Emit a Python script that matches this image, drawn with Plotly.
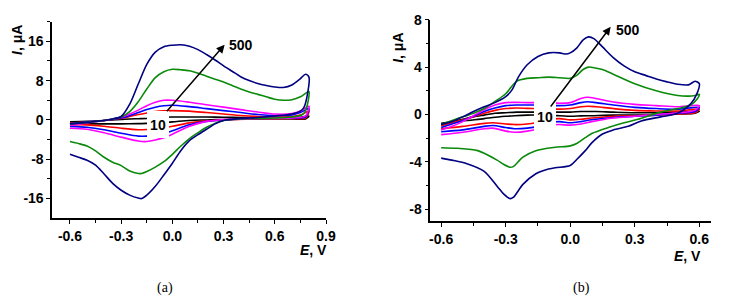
import plotly.graph_objects as go

# ---------------- Panel (a) data ----------------
a_big_E = [-0.6, -0.5, -0.45, -0.4, -0.35, -0.3, -0.25, -0.2, -0.15, -0.1, -0.05, 0.0, 0.05, 0.1,
           0.15, 0.2, 0.25, 0.3, 0.35, 0.4, 0.45, 0.5, 0.55, 0.6, 0.65, 0.7, 0.75, 0.78, 0.8,
           0.79, 0.77, 0.75, 0.7, 0.6, 0.5, 0.4, 0.3, 0.25, 0.2, 0.15, 0.1, 0.05, 0.0, -0.05, -0.1,
           -0.15, -0.18, -0.2, -0.25, -0.3, -0.35, -0.4, -0.45, -0.5, -0.55, -0.6]
a_navy_I = [-0.8, -0.5, -0.3, -0.1, 0.2, 0.7, 3.2, 7.3, 11.3, 13.8, 14.9, 15.2, 15.3, 15.0,
            14.3, 13.3, 12.2, 11.0, 9.9, 8.8, 8.0, 7.4, 7.0, 6.7, 6.6, 7.1, 8.4, 9.3, 8.7,
            5.0, 2.5, 1.8, 1.2, 0.8, 0.5, 0.3, -0.1, -0.8, -1.9, -3.0, -4.2, -6.2, -8.8, -11.2, -13.5,
            -15.3, -16.0, -15.9, -15.3, -14.3, -12.9, -11.0, -9.2, -8.2, -7.6, -7.0]
a_green_I = [-0.8, -0.5, -0.3, -0.1, 0.2, 0.6, 1.7, 3.7, 6.3, 8.6, 9.8, 10.3, 10.2, 10.0,
             9.5, 8.9, 8.3, 7.7, 7.0, 6.3, 5.7, 5.2, 4.7, 4.2, 4.0, 4.1, 4.7, 5.4, 5.8,
             3.0, 1.3, 0.9, 0.6, 0.4, 0.3, 0.2, -0.1, -0.7, -1.5, -2.6, -3.8, -5.3, -7.0, -8.5, -9.6,
             -10.5, -10.9, -10.9, -10.4, -9.3, -8.6, -7.6, -6.3, -5.3, -4.8, -4.4]

a_small_E = [-0.6, -0.5, -0.4, -0.3, -0.25, -0.2, -0.15, -0.1, -0.05, 0.0, 0.1, 0.2, 0.3, 0.4,
             0.5, 0.6, 0.7, 0.75, 0.8,
             0.78, 0.7, 0.5, 0.3, 0.2, 0.1, 0.0, -0.05, -0.1, -0.15, -0.2, -0.3, -0.4, -0.5, -0.6]
a_magenta_I = [-1.1, -0.6, -0.1, 0.6, 1.2, 2.0, 2.9, 3.6, 4.0, 4.0, 3.6, 3.1, 2.6, 2.1,
               1.6, 1.2, 1.3, 1.8, 2.8,
               0.8, 0.4, 0.3, 0.1, -0.3, -1.3, -2.9, -3.6, -4.1, -4.4, -4.3, -3.5, -2.6, -1.9, -1.7]
a_blue_I = [-0.8, -0.4, -0.1, 0.4, 0.9, 1.5, 2.1, 2.6, 2.9, 3.0, 2.7, 2.3, 1.9, 1.5,
            1.1, 0.9, 1.0, 1.5, 2.3,
            0.6, 0.4, 0.3, 0.0, -0.3, -1.0, -2.2, -2.8, -3.1, -3.3, -3.3, -2.7, -2.0, -1.5, -1.3]
a_red_I = [-0.7, -0.4, -0.1, 0.3, 0.7, 1.1, 1.4, 1.7, 1.85, 1.9, 1.8, 1.5, 1.2, 0.9,
           0.7, 0.6, 0.7, 1.0, 1.8,
           0.4, 0.3, 0.2, 0.0, -0.2, -0.6, -1.3, -1.6, -1.8, -1.95, -2.0, -1.7, -1.3, -1.0, -1.0]
a_black_I = [-0.4, -0.3, -0.1, 0.1, 0.2, 0.25, 0.3, 0.45, 0.55, 0.6, 0.6, 0.6, 0.55, 0.5,
             0.45, 0.4, 0.45, 0.55, 0.8,
             0.2, 0.2, 0.15, 0.1, 0.0, -0.1, -0.4, -0.5, -0.6, -0.7, -0.75, -0.8, -0.8, -0.8, -0.8]

# ---------------- Panel (b) data ----------------
b_navy_E = [-0.6, -0.55, -0.5, -0.45, -0.4, -0.35, -0.3, -0.27, -0.24, -0.2, -0.15, -0.1, -0.05,
            -0.02, 0.0, 0.03, 0.06, 0.085, 0.11, 0.15, 0.2, 0.25, 0.3, 0.35, 0.4, 0.45, 0.5, 0.55,
            0.58, 0.6,
            0.59, 0.56, 0.5, 0.42, 0.33, 0.27, 0.2, 0.15, 0.1, 0.07, 0.03, 0.0, -0.07, -0.12, -0.16,
            -0.22, -0.265, -0.28, -0.31, -0.34, -0.4, -0.48, -0.55, -0.6]
b_navy_I = [-0.85, -0.6, -0.2, 0.25, 0.65, 1.0, 1.5, 2.1, 3.2, 4.2, 4.9, 5.2, 5.2,
            5.1, 5.2, 5.6, 6.3, 6.55, 6.4, 5.7, 4.8, 4.1, 3.6, 3.3, 3.0, 2.75, 2.55, 2.5,
            2.8, 2.6,
            1.8, 0.9, 0.1, -0.2, -0.55, -1.0, -1.3, -1.65, -2.4, -3.05, -3.8, -4.3, -4.5, -4.7, -5.0,
            -5.9, -7.0, -7.1, -6.7, -6.05, -4.8, -4.15, -3.85, -3.68]
b_green_E = [-0.6, -0.5, -0.45, -0.4, -0.35, -0.3, -0.25, -0.2, -0.15, -0.1, -0.05, 0.0, 0.03,
             0.06, 0.085, 0.11, 0.15, 0.2, 0.3, 0.4, 0.5, 0.55, 0.58, 0.6,
             0.59, 0.56, 0.5, 0.42, 0.315, 0.25, 0.177, 0.1, 0.07, 0.03, 0.0, -0.07, -0.16, -0.22,
             -0.265, -0.28, -0.31, -0.34, -0.43, -0.525, -0.6]
b_green_I = [-0.85, -0.2, 0.1, 0.5, 1.1, 1.75, 2.8, 3.05, 3.1, 3.15, 3.1, 3.05, 3.3,
             3.8, 4.0, 3.95, 3.8, 3.4, 2.6, 2.0, 1.6, 1.55, 1.6, 1.7,
             1.3, 0.8, 0.5, 0.2, -0.4, -0.7, -1.1, -1.6, -1.95, -2.45, -2.65, -2.77, -3.05, -3.6,
             -4.4, -4.45, -4.2, -3.85, -3.05, -2.85, -2.8]

b_small_E = [-0.6, -0.55, -0.5, -0.45, -0.4, -0.35, -0.3, -0.25, -0.2, -0.15, -0.1, -0.05, 0.0,
             0.05, 0.08, 0.12, 0.2, 0.3, 0.4, 0.5, 0.6,
             0.58, 0.5, 0.4, 0.3, 0.2, 0.1, 0.05, 0.0, -0.05, -0.1, -0.15, -0.2, -0.26, -0.3, -0.36,
             -0.4, -0.5, -0.6]
b_magenta_I = [-1.3, -1.0, -0.6, -0.1, 0.4, 0.8, 1.0, 1.02, 1.0, 1.0, 1.0, 0.95, 1.0,
               1.35, 1.45, 1.35, 1.05, 0.85, 0.75, 0.65, 0.75,
               0.35, 0.15, 0.0, -0.15, -0.3, -0.6, -0.8, -0.9, -0.85, -0.9, -1.2, -1.4, -1.5, -1.4,
               -1.15, -1.2, -1.5, -1.7]
b_blue_I = [-1.1, -0.8, -0.5, -0.15, 0.25, 0.55, 0.75, 0.8, 0.8, 0.8, 0.78, 0.75, 0.8,
            1.0, 1.07, 1.0, 0.8, 0.6, 0.5, 0.45, 0.6,
            0.25, 0.1, -0.05, -0.15, -0.25, -0.45, -0.6, -0.7, -0.6, -0.7, -1.0, -1.15, -1.2, -1.1,
            -0.93, -1.0, -1.3, -1.45]
b_red_I = [-0.95, -0.7, -0.45, -0.2, 0.1, 0.35, 0.5, 0.55, 0.52, 0.5, 0.48, 0.45, 0.5,
           0.65, 0.7, 0.65, 0.5, 0.35, 0.3, 0.3, 0.45,
           0.15, 0.05, -0.05, -0.1, -0.15, -0.3, -0.4, -0.45, -0.35, -0.45, -0.65, -0.8, -0.85, -0.8,
           -0.7, -0.75, -1.0, -1.2]
b_black_I = [-0.75, -0.6, -0.4, -0.2, -0.05, 0.1, 0.15, 0.2, 0.2, 0.2, 0.2, 0.2, 0.2,
             0.25, 0.25, 0.25, 0.2, 0.15, 0.15, 0.2, 0.3,
             0.1, 0.05, 0.0, -0.05, -0.05, -0.1, -0.12, -0.15, -0.1, -0.1, -0.05, -0.05, -0.1, -0.15,
             -0.25, -0.35, -0.55, -0.8]

# tick labels
a_xticks = [-0.6, -0.3, 0.0, 0.3, 0.6, 0.9]
a_xticktext = ["-0.6", "-0.3", "0.0", "0.3", "0.6", "0.9"]
a_yticks = [-16, -8, 0, 8, 16]
a_yticktext = ["-16", "-8", "0", "8", "16"]
b_xticks = [-0.6, -0.3, 0.0, 0.3, 0.6]
b_xticktext = ["-0.6", "-0.3", "0.0", "0.3", "0.6"]
b_yticks = [-8, -4, 0, 4, 8]
b_yticktext = ["-8", "-4", "0", "4", "8"]

NAVY = "#000080"
GREEN = "#0B8A0B"
BLUE = "#0000FF"
MAGENTA = "#FF00FF"
RED = "#FF0000"
BLACK = "#000000"

W, H = 729, 300
fig = go.Figure()

a_curves = [(a_small_E, a_black_I, BLACK), (a_small_E, a_red_I, RED), (a_small_E, a_blue_I, BLUE),
            (a_small_E, a_magenta_I, MAGENTA), (a_big_E, a_green_I, GREEN), (a_big_E, a_navy_I, NAVY)]
b_curves = [(b_small_E, b_black_I, BLACK), (b_small_E, b_red_I, RED), (b_small_E, b_blue_I, BLUE),
            (b_small_E, b_magenta_I, MAGENTA), (b_green_E, b_green_I, GREEN), (b_navy_E, b_navy_I, NAVY)]

for E, I, c in a_curves:
    fig.add_trace(go.Scatter(x=E, y=I, mode="lines", line=dict(color=c, width=1.6, shape="spline", smoothing=0.8),
                             xaxis="x", yaxis="y", showlegend=False, hoverinfo="skip"))
for E, I, c in b_curves:
    fig.add_trace(go.Scatter(x=E, y=I, mode="lines", line=dict(color=c, width=1.6, shape="spline", smoothing=0.8),
                             xaxis="x2", yaxis="y2", showlegend=False, hoverinfo="skip"))

tickfont = dict(family="Liberation Sans, Arial, sans-serif", size=14, color="black", weight="bold")


def axis(domain, rng, tickvals, ticktext, minor_vals, anchor):
    return dict(domain=domain, range=rng, tickmode="array", tickvals=tickvals, ticktext=ticktext,
                showline=True, linecolor="black", linewidth=1.6, ticks="outside", ticklen=4,
                tickwidth=1.4, tickcolor="black", showgrid=False, zeroline=False, tickfont=tickfont,
                anchor=anchor, fixedrange=True,
                minor=dict(tickmode="array", tickvals=minor_vals, ticks="outside", ticklen=3,
                           tickwidth=1.2, tickcolor="black", showgrid=False))


fig.update_layout(
    width=W, height=H, margin=dict(l=0, r=0, t=0, b=0),
    paper_bgcolor="white", plot_bgcolor="white",
    xaxis=axis([52 / W, 330 / W], [-0.704, 0.9], a_xticks, a_xticktext,
               [-0.45, -0.15, 0.15, 0.45, 0.75], "y"),
    yaxis=axis([1 - 216 / H, 1 - 14 / H], [-20, 20], a_yticks, a_yticktext,
               [-12, -4, 4, 12, 20], "x"),
    xaxis2=axis([436 / W, 721 / W], [-0.65, 0.655], b_xticks, b_xticktext,
                [-0.45, -0.15, 0.15, 0.45], "y2"),
    yaxis2=axis([1 - 219 / H, 1 - 12 / H], [-9, 8], b_yticks, b_yticktext,
                [-6, -2, 2, 6], "x2"),
)

lab = dict(family="Liberation Sans, Arial, sans-serif", size=14, color="black", weight="bold")
ann = []
# "10" labels with white boxes (break the curves)
ann.append(dict(x=-0.086, y=-1.03, xref="x", yref="y", text="10", showarrow=False, font=lab,
                bgcolor="white", width=22, height=27, borderpad=0, borderwidth=0))
ann.append(dict(x=-0.119, y=-0.15, xref="x2", yref="y2", text="10", showarrow=False, font=lab,
                bgcolor="white", width=22, height=33, borderpad=0, borderwidth=0))
# arrows
ann.append(dict(x=0.306, y=15.3, ax=-0.04, ay=1.45, xref="x", yref="y", axref="x", ayref="y",
                text="", showarrow=True, arrowhead=2, arrowsize=1.1, arrowwidth=1.5, arrowcolor="black"))
ann.append(dict(x=0.188, y=7.4, ax=-0.096, ay=0.55, xref="x2", yref="y2", axref="x2", ayref="y2",
                text="", showarrow=True, arrowhead=2, arrowsize=1.1, arrowwidth=1.5, arrowcolor="black"))
# "500" labels
ann.append(dict(x=0.317, y=15.3, xref="x", yref="y", text="500", showarrow=False, font=lab,
                xanchor="left", yanchor="middle"))
ann.append(dict(x=0.202, y=7.17, xref="x2", yref="y2", text="500", showarrow=False, font=lab,
                xanchor="left", yanchor="middle"))


def P(px, py):
    return px / W, 1 - py / H


for (cx, cy) in [(16, 33), (403, 41)]:
    x, y = P(cx, cy)
    ann.append(dict(x=x, y=y, xref="paper", yref="paper", text="<i>I</i>, μA", textangle=-90,
                    showarrow=False, font=lab, xanchor="center", yanchor="middle"))
for (cx, cy) in [(317, 249), (697, 255)]:
    x, y = P(cx, cy)
    ann.append(dict(x=x, y=y, xref="paper", yref="paper", text="<i>E</i>, V",
                    showarrow=False, font=lab, xanchor="center", yanchor="middle"))
for (cx, cy, t) in [(167, 288, "(a)"), (589, 288, "(b)")]:
    x, y = P(cx, cy)
    ann.append(dict(x=x, y=y, xref="paper", yref="paper", text=t, showarrow=False,
                    font=dict(family="Liberation Serif, Times New Roman, serif", size=14, color="black"),
                    xanchor="center", yanchor="middle"))

fig.update_layout(annotations=ann)
fig.write_html("out.html", include_plotlyjs=True, config={"displayModeBar": False},
               post_script="document.body.style.margin='0px';document.body.style.overflow='hidden';")
